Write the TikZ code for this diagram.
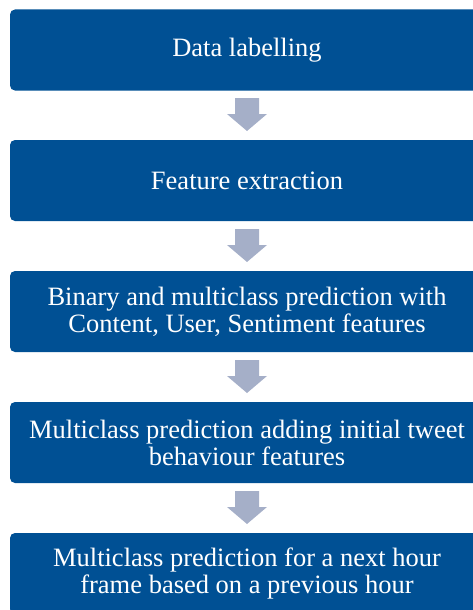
\documentclass[tikz,border=0pt]{standalone}
\usepackage{fontspec}
\setmainfont{LiberationSerif}[Extension=.ttf,UprightFont=*-Regular,BoldFont=*-Bold]
\definecolor{boxblue}{RGB}{0,80,148}
\definecolor{arrowgrey}{RGB}{165,175,200}
\begin{document}
\begin{tikzpicture}[x=1pt,y=-1pt,
  stepbox/.style={fill=boxblue,draw=none,rounded corners=5pt,minimum width=474pt,minimum height=81pt,text=white,align=center,font=\rmfamily\fontsize{26.5}{27}\selectfont,inner sep=0pt},
  downarrow/.style={fill=arrowgrey,draw=none}]
\useasboundingbox (0,0) rectangle (472,610);
\node[stepbox] (b1) at (247,50) {Data labelling};
\node[stepbox] (b2) at (247,180.5) {Feature extraction};
\node[stepbox] (b3) at (247,311.5) {Binary and multiclass prediction with\\Content, User, Sentiment features};
\node[stepbox] (b4) at (247,442.5) {Multiclass prediction adding initial tweet\\behaviour features};
\node[stepbox] (b5) at (247,573.5) {Multiclass prediction for a next hour\\frame based on a previous hour};
\foreach \n/\y in {a1/98,a2/229,a3/360,a4/491}{
  \coordinate (\n) at (247,\y);
  \fill[downarrow] (\n) ++(-12,0) -- ++(24,0) -- ++(0,16) -- ++(8,0) -- ++(-20,17) -- ++(-20,-17) -- ++(8,0) -- cycle;
}
\end{tikzpicture}
\end{document}
